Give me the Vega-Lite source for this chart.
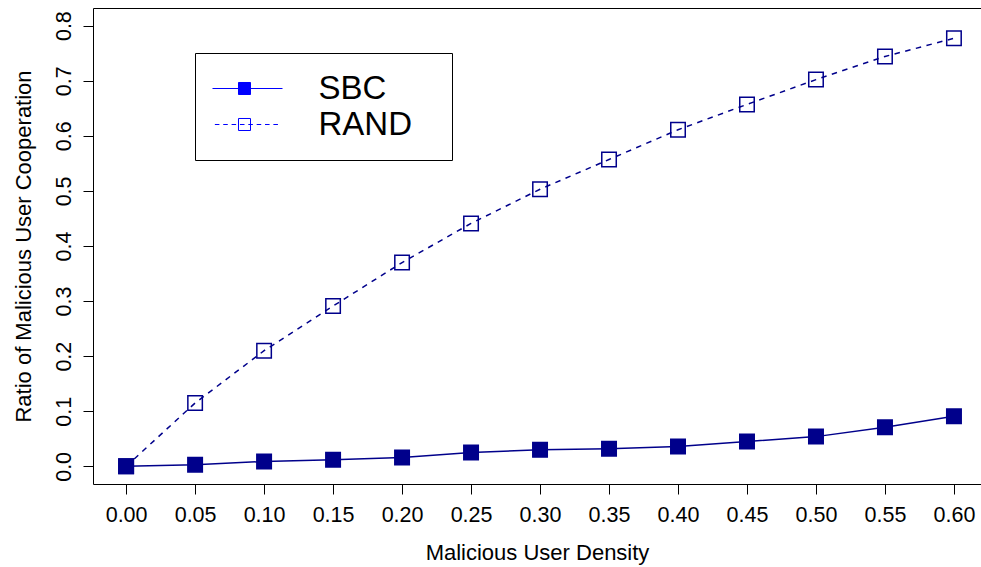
{
  "$schema": "https://vega.github.io/schema/vega-lite/v6.json",
  "width": 888,
  "height": 476,
  "autosize": {"type": "none"},
  "padding": {"left": 93, "top": 8, "right": 0, "bottom": 83},
  "background": "white",
  "config": {
    "view": {"stroke": null},
    "font": "Liberation Sans",
    "axis": {
      "grid": false,
      "domainColor": "black",
      "domainWidth": 1,
      "tickColor": "black",
      "tickWidth": 1,
      "labelColor": "black",
      "titleColor": "black",
      "labelFont": "Liberation Sans",
      "titleFont": "Liberation Sans",
      "titleFontWeight": "normal",
      "labelFontSize": 21.5,
      "titleFontSize": 22
    }
  },
  "data": {
    "values": [
      {"x": 0.00, "y": 0.000, "series": "SBC"},
      {"x": 0.05, "y": 0.003, "series": "SBC"},
      {"x": 0.10, "y": 0.009, "series": "SBC"},
      {"x": 0.15, "y": 0.012, "series": "SBC"},
      {"x": 0.20, "y": 0.016, "series": "SBC"},
      {"x": 0.25, "y": 0.025, "series": "SBC"},
      {"x": 0.30, "y": 0.030, "series": "SBC"},
      {"x": 0.35, "y": 0.032, "series": "SBC"},
      {"x": 0.40, "y": 0.036, "series": "SBC"},
      {"x": 0.45, "y": 0.045, "series": "SBC"},
      {"x": 0.50, "y": 0.054, "series": "SBC"},
      {"x": 0.55, "y": 0.071, "series": "SBC"},
      {"x": 0.60, "y": 0.091, "series": "SBC"},
      {"x": 0.00, "y": 0.000, "series": "RAND"},
      {"x": 0.05, "y": 0.115, "series": "RAND"},
      {"x": 0.10, "y": 0.210, "series": "RAND"},
      {"x": 0.15, "y": 0.291, "series": "RAND"},
      {"x": 0.20, "y": 0.370, "series": "RAND"},
      {"x": 0.25, "y": 0.441, "series": "RAND"},
      {"x": 0.30, "y": 0.503, "series": "RAND"},
      {"x": 0.35, "y": 0.557, "series": "RAND"},
      {"x": 0.40, "y": 0.611, "series": "RAND"},
      {"x": 0.45, "y": 0.657, "series": "RAND"},
      {"x": 0.50, "y": 0.702, "series": "RAND"},
      {"x": 0.55, "y": 0.744, "series": "RAND"},
      {"x": 0.60, "y": 0.777, "series": "RAND"}
    ]
  },
  "layer": [
    {
      "mark": {"type": "point", "filled": false, "color": "#0000ff", "strokeWidth": 1, "size": 5776, "opacity": 0},
      "encoding": {
        "x": {
          "field": "x", "type": "quantitative",
          "scale": {"domain": [-0.024, 0.6196], "nice": false, "zero": false},
          "axis": {
            "orient": "bottom",
            "values": [0, 0.05, 0.1, 0.15, 0.2, 0.25, 0.3, 0.35, 0.4, 0.45, 0.5, 0.55, 0.6],
            "format": ".2f",
            "tickSize": 10,
            "labelPadding": 10,
            "labelFlush": false,
            "labelOverlap": false,
            "title": "Malicious User Density",
            "titlePadding": 17
          }
        },
        "y": {
          "field": "y", "type": "quantitative",
          "scale": {"domain": [-0.032, 0.832], "nice": false, "zero": false},
          "axis": {
            "values": [0, 0.1, 0.2, 0.3, 0.4, 0.5, 0.6, 0.7, 0.8],
            "format": ".1f",
            "labelAngle": 270,
            "labelAlign": "center",
            "labelBaseline": "alphabetic",
            "tickSize": 10,
            "labelPadding": 12.5,
            "labelFlush": false,
            "labelOverlap": false,
            "title": "Ratio of Malicious User Cooperation",
            "titlePadding": 18
          }
        },
        "shape": {
          "field": "series", "type": "nominal",
          "scale": {
            "domain": ["SBC", "RAND"],
            "range": [
              "M-1,0H1M-0.158,-0.158H0.158V0.158H-0.158ZM-0.158,-0.132H0.158M-0.158,-0.105H0.158M-0.158,-0.079H0.158M-0.158,-0.053H0.158M-0.158,-0.026H0.158M-0.158,0.026H0.158M-0.158,0.053H0.158M-0.158,0.079H0.158M-0.158,0.105H0.158M-0.158,0.132H0.158",
              "M-1,0H-0.88M-0.78,0H-0.66M-0.56,0H-0.44M-0.34,0H-0.22M-0.12,0H0M0.1,0H0.22M0.32,0H0.44M0.54,0H0.66M0.76,0H0.88M-0.158,-0.158H0.158V0.158H-0.158Z"
            ]
          },
          "legend": {
            "orient": "none",
            "legendX": 102,
            "legendY": 45,
            "title": "\u00a0",
            "titleOrient": "right",
            "titleFontSize": 1,
            "titlePadding": 22,
            "direction": "vertical",
            "padding": 17.5,
            "strokeColor": "black",
            "fillColor": "white",
            "symbolSize": 5776,
            "clipHeight": 36,
            "rowPadding": 0,
            "symbolOffset": -6.5,
            "labelOffset": 35.5,
            "labelFontSize": 33,
            "labelFont": "Liberation Sans",
            "labelColor": "black",
            "labelLimit": 400,
            "symbolStrokeWidth": 1,
            "symbolStrokeColor": "#0000ff",
            "symbolOpacity": 1
          }
        }
      }
    },
    {
      "transform": [{"filter": {"field": "series", "equal": "SBC"}}],
      "mark": {"type": "line", "strokeWidth": 1.5, "color": "#00008B"},
      "encoding": {
        "x": {"field": "x", "type": "quantitative", "axis": null},
        "y": {"field": "y", "type": "quantitative"}
      }
    },
    {
      "transform": [{"filter": {"field": "series", "equal": "RAND"}}],
      "mark": {"type": "line", "strokeWidth": 1.5, "color": "#00008B", "strokeDash": [5.5, 5.5]},
      "encoding": {
        "x": {"field": "x", "type": "quantitative", "axis": null},
        "y": {"field": "y", "type": "quantitative"}
      }
    },
    {
      "mark": {"type": "square", "size": 210, "stroke": "#00008B", "strokeWidth": 1.5, "opacity": 1},
      "encoding": {
        "x": {
          "field": "x", "type": "quantitative",
          "axis": {"orient": "top", "ticks": false, "labels": false, "title": null, "domain": true}
        },
        "y": {"field": "y", "type": "quantitative"},
        "fill": {
          "field": "series", "type": "nominal",
          "scale": {"domain": ["SBC", "RAND"], "range": ["#00008B", "transparent"]},
          "legend": null
        }
      }
    }
  ],
  "resolve": {"axis": {"x": "independent"}}
}
